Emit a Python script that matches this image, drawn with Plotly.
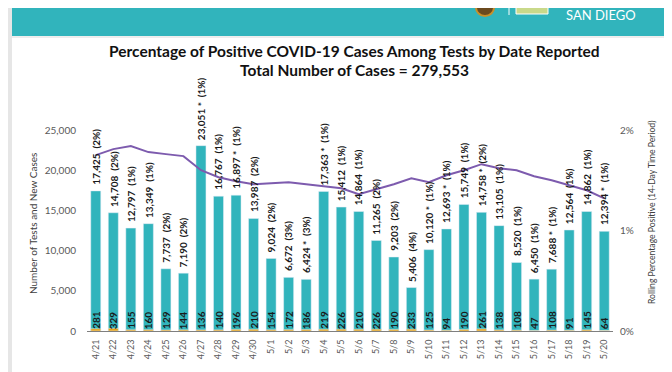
import plotly.graph_objects as go

dates = ["4/21","4/22","4/23","4/24","4/25","4/26","4/27","4/28","4/29","4/30",
         "5/1","5/2","5/3","5/4","5/5","5/6","5/7","5/8","5/9","5/10",
         "5/11","5/12","5/13","5/14","5/15","5/16","5/17","5/18","5/19","5/20"]
tests = [17425,14708,12797,13349,7737,7190,23051,16767,16897,13987,
         9024,6672,6424,17363,15412,14864,11265,9203,5406,10120,
         12693,15749,14758,13105,8520,6450,7688,12564,14862,12394]
daily_pct = [2,2,1,1,2,2,1,1,1,2,
             2,3,3,1,1,1,2,2,4,1,
             1,1,2,1,1,1,1,1,1,1]
starred = [0,0,0,0,0,0,1,0,1,0,
           0,0,1,1,0,0,0,0,0,1,
           1,0,1,0,0,0,1,0,0,1]
cases = [281,329,155,160,129,144,136,140,196,210,
         154,172,186,219,226,210,226,190,233,125,
         94,190,261,138,108,47,108,91,145,64]
rolling = [0.0175,0.0181,0.0184,0.0178,0.0176,0.0174,0.0160,0.0153,0.0149,0.0146,
           0.0147,0.0148,0.0146,0.0144,0.0142,0.0136,0.0141,0.0146,0.0152,0.0148,
           0.0155,0.0160,0.0166,0.0162,0.0160,0.0154,0.0150,0.0145,0.0140,0.0132]
y_ticks = [0, 5000, 10000, 15000, 20000, 25000]
title1 = "Percentage of Positive COVID-19 Cases Among Tests by Date Reported"
title2 = "Total Number of Cases = 279,553"

W, H = 672, 372
L, R, T, B = 79, 605, 122, 323  # plot area in pixels

def px(x):
    return (x - L) / (R - L)

def py(y):
    return (B - y) / (B - T)

TEAL = "#31B4BC"
FONT = "Lato"

fig = go.Figure()
fig.add_trace(go.Bar(x=dates, y=tests, marker_color=TEAL, width=0.57, name="Tests"))
fig.add_trace(go.Bar(x=dates, y=cases, marker_color="#E8A317", width=0.57, name="Cases"))
fig.add_trace(go.Scatter(x=dates, y=rolling, yaxis="y2", mode="lines",
                         line=dict(color="#7D5BAE", width=2), name="Rolling"))

annotations = []
for d, t, p, s in zip(dates, tests, daily_pct, starred):
    txt = f"{t:,}" + (" *" if s else "") + f"  ({p}%)"
    annotations.append(dict(x=d, y=t, xref="x", yref="y", text=txt, showarrow=False,
                            textangle=-90, yanchor="bottom", xanchor="center", yshift=4,
                            font=dict(family=FONT, size=10, color="#1a1a1a", weight="bold")))
for d, c in zip(dates, cases):
    annotations.append(dict(x=d, y=0, xref="x", yref="y", text=str(c), showarrow=False,
                            textangle=-90, yanchor="bottom", xanchor="center", yshift=0,
                            font=dict(family=FONT, size=10, color="#1a1a1a", weight="bold")))

annotations += [
    dict(x=px(346), y=py(43), xref="paper", yref="paper", text=title1, showarrow=False,
         xanchor="center", yanchor="middle",
         font=dict(family=FONT, size=15.5, color="#111", weight="bold")),
    dict(x=px(346), y=py(62), xref="paper", yref="paper", text=title2, showarrow=False,
         xanchor="center", yanchor="middle",
         font=dict(family=FONT, size=15.5, color="#111", weight="bold")),
    dict(x=px(25), y=py(216), xref="paper", yref="paper", text="Number of Tests and New Cases",
         showarrow=False, textangle=-90, xanchor="center", yanchor="middle",
         font=dict(family=FONT, size=10, color="#404040")),
    dict(x=px(644), y=py(205), xref="paper", yref="paper",
         text="Rolling Percentage Positive (14-Day Time Period)",
         showarrow=False, textangle=-90, xanchor="center", yanchor="middle",
         font=dict(family=FONT, size=8.6, color="#404040")),
    dict(x=px(593), y=py(7), xref="paper", yref="paper", text="SAN DIEGO",
         showarrow=False, xanchor="center", yanchor="middle",
         font=dict(family=FONT, size=13, color="#ffffff")),
]

shapes = [
    dict(type="rect", xref="paper", yref="paper", x0=px(0), x1=px(672), y0=py(0), y1=py(372),
         fillcolor="#ffffff", line_width=0, layer="below"),
    dict(type="rect", xref="paper", yref="paper", x0=px(0), x1=px(4), y0=py(0), y1=py(372),
         fillcolor="#e6e6e6", line_width=0, layer="below"),
    dict(type="rect", xref="paper", yref="paper", x0=px(664), x1=px(672), y0=py(0), y1=py(372),
         fillcolor="#e6e6e6", line_width=0, layer="below"),
    dict(type="rect", xref="paper", yref="paper", x0=px(4), x1=px(664), y0=py(0), y1=py(28),
         fillcolor=TEAL, line_width=0, layer="below"),
    dict(type="line", xref="paper", yref="paper", x0=px(4), x1=px(664), y0=py(29), y1=py(29),
         line=dict(color="#dcdcdc", width=1), layer="below"),
    dict(type="circle", xref="paper", yref="paper", x0=px(468), x1=px(486), y0=py(-9), y1=py(8),
         fillcolor="#6b4a1f", line=dict(color="#c8902a", width=2)),
    dict(type="line", xref="paper", yref="paper", x0=px(501), x1=px(501), y0=py(0), y1=py(7),
         line=dict(color="#ffffff", width=1)),
    dict(type="rect", xref="paper", yref="paper", x0=px(508), x1=px(540), y0=py(-3), y1=py(6),
         fillcolor="#c9d98a", line=dict(color="#ffffff", width=1)),
]

fig.update_layout(
    width=W, height=H,
    margin=dict(l=L, r=W - R, t=T, b=H - B, pad=0),
    paper_bgcolor="#ffffff", plot_bgcolor="rgba(0,0,0,0)",
    barmode="overlay", showlegend=False,
    font=dict(family=FONT, color="#595959"),
    xaxis=dict(type="category", showgrid=False, showline=True, linecolor="#7f7f7f",
               linewidth=1, ticks="", tickangle=-90, tickfont=dict(size=9, color="#595959"),
               ticklabelstandoff=4),
    yaxis=dict(range=[0, 25000], tickvals=y_ticks, tickformat=",", showgrid=False,
               zeroline=False, ticks="", tickfont=dict(size=10, color="#595959"),
               ticklabelstandoff=10),
    yaxis2=dict(range=[0, 0.02], overlaying="y", side="right", tickvals=[0, 0.01, 0.02],
                tickformat=".0%", showgrid=False, zeroline=False, ticks="",
                tickfont=dict(size=10, color="#595959"), ticklabelstandoff=6),
    annotations=annotations, shapes=shapes,
)

fig.write_html("out.html")
